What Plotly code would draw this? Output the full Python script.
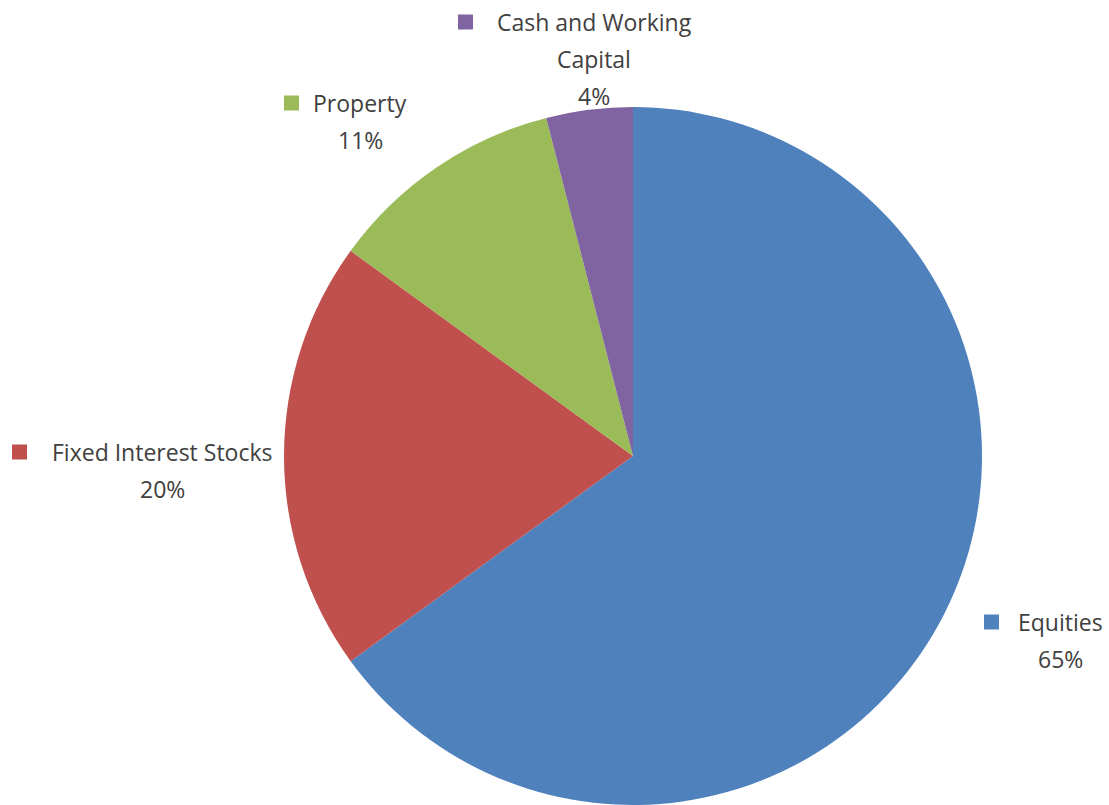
import plotly.graph_objects as go

# Asset allocation
categories = ["Equities", "Fixed Interest Stocks", "Property", "Cash and Working Capital"]
values = [65, 20, 11, 4]
colors = ["#4F81BD", "#C0504D", "#9BBB59", "#8064A2"]

W, H = 1109, 805
FONT = "Open Sans"
TEXT_COLOR = "#404040"
FS = 23


def px(x, y):
    return x / W, 1 - y / H


fig = go.Figure(
    go.Pie(
        labels=categories,
        values=values,
        sort=False,
        direction="clockwise",
        rotation=0,
        textinfo="none",
        hoverinfo="label+percent",
        marker=dict(colors=colors, line=dict(width=0)),
        domain=dict(x=[284 / W, 982 / W], y=[0, 698 / H]),
    )
)

# label layout: (text centre x, first line centre y, square left x), lines of text
label_lines = {
    "Equities": ["Equities"],
    "Fixed Interest Stocks": ["Fixed Interest Stocks"],
    "Property": ["Property"],
    "Cash and Working Capital": ["Cash and Working", "Capital"],
}
label_pos = {
    "Equities": (1060, 622, 984),
    "Fixed Interest Stocks": (162, 452, 12),
    "Property": (360, 103, 284),
    "Cash and Working Capital": (594, 22, 458),
}
LINE = 37
SQ = 15

annotations = []
shapes = []
for cat, val, col in zip(categories, values, colors):
    cx, cy, sx = label_pos[cat]
    lines = label_lines[cat] + [f"{val}%"]
    for i, line in enumerate(lines):
        x, y = px(cx, cy + i * LINE)
        annotations.append(
            dict(
                x=x, y=y, xref="paper", yref="paper",
                text=line, showarrow=False,
                xanchor="center", yanchor="middle",
                font=dict(family=FONT, size=FS, color=TEXT_COLOR),
            )
        )
    x0, y0 = px(sx, cy - SQ / 2)
    x1, y1 = px(sx + SQ, cy + SQ / 2)
    shapes.append(
        dict(
            type="rect", xref="paper", yref="paper",
            x0=x0, x1=x1, y0=y1, y1=y0,
            fillcolor=col, line=dict(width=0),
        )
    )

fig.update_layout(
    width=W,
    height=H,
    margin=dict(l=0, r=0, t=0, b=0),
    showlegend=False,
    paper_bgcolor="white",
    plot_bgcolor="white",
    annotations=annotations,
    shapes=shapes,
)

fig.write_html("out.html")
